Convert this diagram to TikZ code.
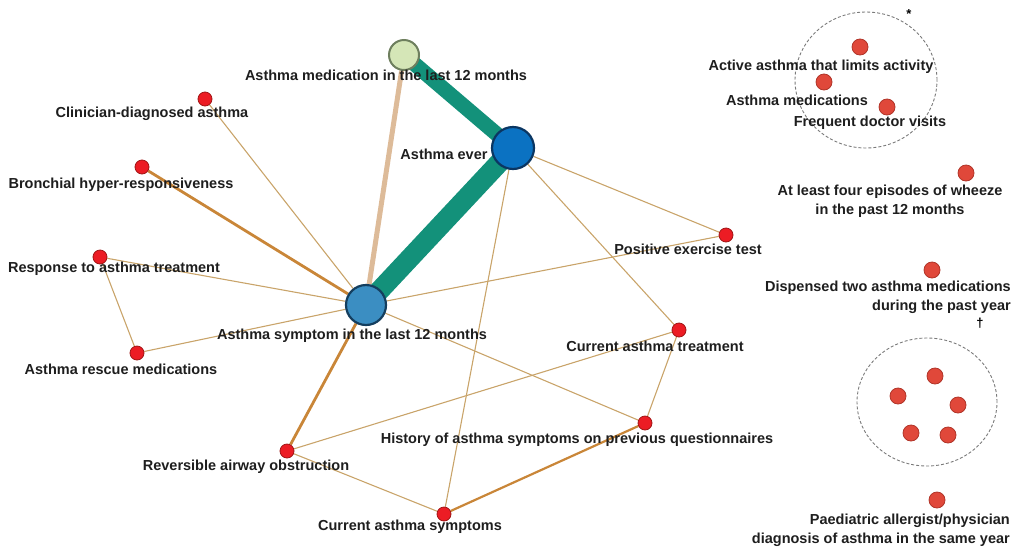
\documentclass[tikz,border=0pt]{standalone}
\usepackage{fontspec}
\setmainfont{Liberation Sans}
\usetikzlibrary{backgrounds,shapes.geometric}
\definecolor{tealc}{HTML}{13917A}
\definecolor{tanc}{HTML}{DDBB99}
\definecolor{orangec}{HTML}{C98638}
\definecolor{thinc}{HTML}{C9A46A}
\definecolor{txt}{HTML}{1E1E1E}
\definecolor{dotred}{HTML}{EC1C24}
\definecolor{dotedge}{HTML}{A01515}
\definecolor{odotfill}{HTML}{E0483A}
\definecolor{odotedge}{HTML}{B03428}
\definecolor{lgreen}{HTML}{D5E6B7}
\definecolor{lgreenedge}{HTML}{6E7F5E}
\definecolor{aeblue}{HTML}{0B72C2}
\definecolor{aeedge}{HTML}{0B3662}
\definecolor{asblue}{HTML}{3B8EC2}
\definecolor{asedge}{HTML}{143E5E}
\definecolor{dashc}{HTML}{7A7A7A}
\begin{document}
\begin{tikzpicture}[x=1pt,y=-1pt,
  lbl/.style={font=\fontsize{14.5}{16}\selectfont\bfseries, text=txt, inner sep=0pt},
  lbltwo/.style={font=\fontsize{14.5}{19}\selectfont\bfseries, text=txt, inner sep=0pt},
  rdot/.style={circle, fill=dotred, draw=dotedge, line width=0.8pt, minimum size=14pt, inner sep=0pt},
  odot/.style={circle, fill=odotfill, draw=odotedge, line width=0.8pt, minimum size=16pt, inner sep=0pt},
  thinedge/.style={draw=thinc, line width=1.1pt},
  midedge/.style={draw=orangec, line width=2.8pt},
  grp/.style={draw=dashc, line width=0.9pt, dash pattern=on 3pt off 2pt}]
\useasboundingbox (0,0) rectangle (1015,547);

% main nodes
\node[circle, fill=lgreen, draw=lgreenedge, line width=2pt, minimum size=30pt, inner sep=0pt] (am) at (404,55) {};
\node[circle, fill=aeblue, draw=aeedge, line width=2.2pt, minimum size=42pt, inner sep=0pt] (ae) at (513,148) {};
\node[circle, fill=asblue, draw=asedge, line width=2.2pt, minimum size=40pt, inner sep=0pt] (as) at (366,305) {};
\node[rdot] (cl) at (205,99) {};
\node[rdot] (br) at (142,167) {};
\node[rdot] (re) at (100,257) {};
\node[rdot] (rm) at (137,353) {};
\node[rdot] (ra) at (287,451) {};
\node[rdot] (cs) at (444,514) {};
\node[rdot] (hi) at (645,423) {};
\node[rdot] (ct) at (679,330) {};
\node[rdot] (pe) at (726,235) {};

% labels
\node[lbl] (l-am) at (386,75) {Asthma medication in the last 12 months};
\node[lbl] (l-cl) at (152,114) {Clinician-diagnosed asthma};
\node[lbl] (l-ae) at (444,154) {Asthma ever};
\node[lbl] (l-br) at (121,185) {Bronchial hyper-responsiveness};
\node[lbl] (l-re) at (114,269) {Response to asthma treatment};
\node[lbl] (l-as) at (352,336) {Asthma symptom in the last 12 months};
\node[lbl] (l-rm) at (121,369) {Asthma rescue medications};
\node[lbl] (l-ra) at (246,467) {Reversible airway obstruction};
\node[lbl] (l-cs) at (410,527) {Current asthma symptoms};
\node[lbl] (l-hi) at (577,440) {History of asthma symptoms on previous questionnaires};
\node[lbl] (l-ct) at (655,346) {Current asthma treatment};
\node[lbl] (l-pe) at (688,249) {Positive exercise test};

% edges
\begin{scope}[on background layer]
  \draw[thinedge] (cl) -- (as);
  \draw[thinedge] (re) -- (as);
  \draw[thinedge] (re) -- (rm);
  \draw[thinedge] (rm) -- (as);
  \draw[thinedge] (as) -- (pe);
  \draw[thinedge] (as) -- (hi);
  \draw[thinedge] (ae) -- (pe);
  \draw[thinedge] (ae) -- (ct);
  \draw[thinedge] (ae) -- (cs);
  \draw[thinedge] (ra) -- (ct);
  \draw[thinedge] (ra) -- (cs);
  \draw[thinedge] (ct) -- (hi);
  \draw[midedge] (br) -- (as);
  \draw[midedge] (ra) -- (as);
  \draw[draw=orangec, line width=2.2pt] (cs) -- (hi);
  \draw[draw=tanc, line width=5pt] (am) -- (as);
  \draw[draw=tealc, line width=15pt] (am.center) -- (ae.center);
  \draw[draw=tealc, line width=20pt] (ae.center) -- (as.center);
\end{scope}

% right side groups
\node[grp, ellipse, minimum width=142pt, minimum height=136pt, inner sep=0pt] (g1) at (866,80) {};
\node[inner sep=0pt, font=\fontsize{13}{13}\selectfont\bfseries] (ast) at (909,14) {*};
\node[odot] (g1a) at (860,47) {};
\node[odot] (g1b) at (824,82) {};
\node[odot] (g1c) at (887,107) {};
\node[lbl] (l-g1a) at (821,67) {Active asthma that limits activity};
\node[lbl] (l-g1b) at (797,100) {Asthma medications};
\node[lbl] (l-g1c) at (870,123) {Frequent doctor visits};

\node[odot] (w4) at (966,173) {};
\node[lbltwo, align=center] (l-w4) at (890,201) {At least four episodes of wheeze\\in the past 12 months};

\node[odot] (dm) at (932,270) {};
\node[lbltwo, align=right, anchor=east] (l-dm) at (1011,297) {Dispensed two asthma medications\\during the past year};

\node[grp, ellipse, minimum width=140pt, minimum height=128pt, inner sep=0pt] (g2) at (927,402) {};
\node[inner sep=0pt, font=\fontsize{13}{13}\selectfont\bfseries] (dag) at (980,323) {\textdagger};
\node[odot] (g2a) at (935,376) {};
\node[odot] (g2b) at (898,396) {};
\node[odot] (g2c) at (958,405) {};
\node[odot] (g2d) at (911,433) {};
\node[odot] (g2e) at (948,435) {};

\node[odot] (pd) at (937,500) {};
\node[lbltwo, align=right, anchor=east] (l-pd) at (1010,530) {Paediatric allergist/physician\\diagnosis of asthma in the same year};
\end{tikzpicture}
\end{document}
